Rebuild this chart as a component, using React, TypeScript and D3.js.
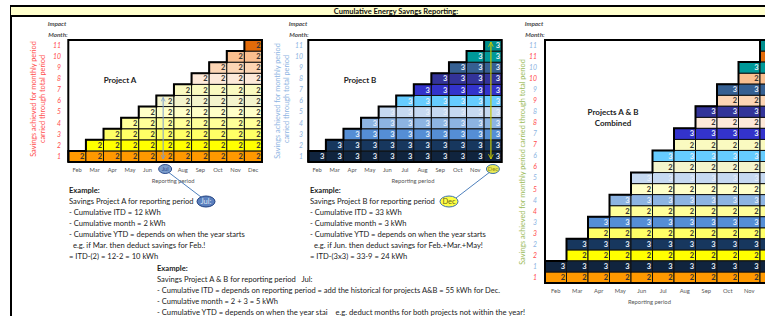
import * as d3 from "d3";
import React from "react";

// ---- data ----
const months = ["Feb", "Mar", "Apr", "May", "Jun", "Jul", "Aug", "Sep", "Oct", "Nov", "Dec"];
const impactMonths = ["1", "2", "3", "4", "5", "6", "7", "8", "9", "10", "11"];
const savingsA = [2, 2, 2, 2, 2, 2, 2, 2, 2, 2, 2];
const savingsB = [3, 3, 3, 3, 3, 3, 3, 3, 3, 3, 3];
const colorsA = ["#FF9900", "#FFFF00", "#FFFF66", "#FFFF99", "#FFFFC8", "#F4F4CC", "#FAFAC0", "#FDE9D9", "#FCD5B4", "#FABF8F", "#E26B0A"];
const colorsB = ["#10243E", "#17375E", "#558ED5", "#8DB4E2", "#C6D9F1", "#66CCFF", "#3333CC", "#333399", "#366092", "#009999", "#008E8E"];

const exampleA = [
  "- Cumulative ITD = 12 kWh",
  "- Cumulative month = 2 kWh",
  "- Cumulative YTD = depends on when the year starts",
  "  e.g. if Mar. then deduct savings for Feb.!",
  "= ITD-(2) = 12-2 = 10 kWh",
];
const exampleB = [
  "- Cumulative ITD = 33 kWh",
  "- Cumulative month = 3 kWh",
  "- Cumulative YTD = depends on when the year starts",
  "  e.g. if Jun. then deduct savings for Feb.+Mar.+May!",
  "= ITD-(3x3) = 33-9 = 24 kWh",
];
const exampleAB = [
  "- Cumulative ITD = depends on reporting period = add the historical for projects A&B = 55 kWh for Dec.",
  "- Cumulative month = 2 + 3 = 5 kWh",
  "- Cumulative YTD = depends on when the year stai    e.g. deduct months for both projects not within the year!",
];
const exampleABWidths = [343, 121, 368];

const FONT = "Lato, 'Liberation Sans', sans-serif";
const W = 765, H = 316;

// keep runs of spaces visible
const keepSpaces = (s: string) => s.replace(/ {2,}/g, (m) => "\u00A0".repeat(m.length));

type Cell = { row: string; col: string; value: number; fill: string; light: boolean };

function buildCells(savings: number[], colors: string[], prefix: string, light: boolean): Cell[] {
  const out: Cell[] = [];
  impactMonths.forEach((im, k) => {
    months.forEach((m, c) => {
      if (c >= k) out.push({ row: prefix + im, col: m, value: savings[k], fill: colors[k], light });
    });
  });
  return out;
}

const Grid = ({ cells, x, y, rowsPerStep, label, labelLines }: any) => {
  const bw = x.bandwidth();
  const bh = y.bandwidth();
  const [x0, x1] = x.range();
  const [y1, y0] = y.range();
  const rows: string[] = y.domain();
  // staircase outline
  let path = `M${x0},${y1}`;
  months.forEach((m, c) => {
    const topRow = rows[Math.min(rows.length - 1, c * rowsPerStep + rowsPerStep - 1)];
    const ty = y(topRow);
    path += `L${x(m)},${ty}L${x(m) + bw},${ty}`;
  });
  return (
    <g>
      {cells.map((d: Cell, i: number) => (
        <g key={i}>
          <rect x={x(d.col)} y={y(d.row)} width={bw} height={bh} fill={d.fill} stroke="#111" strokeWidth={1} />
          {x(d.col) + bw - 1.5 <= W && (
            <text x={x(d.col) + bw - 1.5} y={y(d.row) + bh / 2 + 2.6} textAnchor="end" fontSize={7.5} fontWeight="bold"
              fill={d.light ? "#E8EEF8" : "#333"} fontFamily={FONT}>{d.value}</text>
          )}
        </g>
      ))}
      <rect x={x0} y={y0} width={x1 - x0} height={y1 - y0} fill="none" stroke="#000" strokeWidth={2} />
      <path d={path} fill="none" stroke="#000" strokeWidth={2} />
      {months.filter((m) => x(m) + bw / 2 + 6 < W).map((m) => (
        <text key={m} x={x(m) + bw / 2} y={y1 + 9.5} textAnchor="middle" fontSize={5.8} fill="#555" fontFamily={FONT}>{m}</text>
      ))}
      <text x={(x0 + Math.min(x1, 770)) / 2 + (x1 > 770 ? -8 : 8)} y={y1 + 20.5} textAnchor="middle" fontSize={5.8} fill="#555" fontFamily={FONT}>Reporting period</text>
      {labelLines.map((l: string, i: number) => (
        <text key={i} x={label[0]} y={label[1] + i * 11} textAnchor="middle" fontSize={8} fontWeight="bold" fill="#222" fontFamily={FONT}>{l}</text>
      ))}
    </g>
  );
};

const YLabels = ({ y, rows, texts, colors, xr }: any) => (
  <g>
    {rows.map((r: string, i: number) => (
      <text key={r} x={xr} y={y(r) + y.bandwidth() / 2 + 2.4} textAnchor="end" fontSize={6.8} fontStyle="italic"
        fill={colors[i]} fontFamily={FONT}>{texts[i]}</text>
    ))}
  </g>
);

const Impact = ({ x }: { x: number }) => (
  <g fontFamily={FONT} fontSize={6.3} fontStyle="italic" fontWeight="bold" fill="#4a4a4a" textAnchor="middle">
    <text x={x} y={26}>Impact</text>
    <text x={x + 1} y={37}>Month:</text>
  </g>
);

const Block = ({ x, y, title, lines, widths }: any) => (
  <g fontFamily={FONT} fontSize={7.6} fill="#222">
    <text x={x} y={y} fontWeight="bold">Example:</text>
    <text x={x} y={y + 11}>{keepSpaces(title)}</text>
    {lines.map((l: string, i: number) => (
      <text key={i} x={x} y={y + 22 + i * 11}
        {...(widths ? { textLength: widths[i], lengthAdjust: "spacingAndGlyphs" } : {})}>{keepSpaces(l)}</text>
    ))}
  </g>
);

export default function App() {
  const xA = d3.scaleBand().domain(months).range([68.3, 262]);
  const xB = d3.scaleBand().domain(months).range([308.3, 501.7]);
  const xC = d3.scaleBand().domain(months).range([545, 545 + 21.5 * 11]);
  const yA = d3.scaleBand().domain(impactMonths).range([162, 40]);
  const yB = d3.scaleBand().domain(impactMonths).range([162, 40]);
  const rowsC: string[] = [];
  impactMonths.forEach((im) => { rowsC.push("A" + im, "B" + im); });
  const yC = d3.scaleBand().domain(rowsC).range([283, 40]);

  const cellsA = buildCells(savingsA, colorsA, "", false);
  const cellsB = buildCells(savingsB, colorsB, "", true);
  const cellsC = [...buildCells(savingsA, colorsA, "A", false), ...buildCells(savingsB, colorsB, "B", true)];

  const red = "#FF4D4D", blue = "#8DB4E2", green = "#9BBB59";
  const julX = xA("Jul")! + xA.bandwidth() / 2;
  const decX = xB("Dec")! + xB.bandwidth() / 2;

  return (
    <svg width={W} height={H} style={{ position: "absolute", left: 0, top: 0, background: "#fff" }}>
      <defs>
        <marker id="ahA" viewBox="0 0 10 10" refX="9" refY="5" markerWidth="5" markerHeight="5" orient="auto-start-reverse">
          <path d="M1,1L9,5L1,9" fill="none" stroke="#7F9FCF" strokeWidth={1.5} />
        </marker>
        <marker id="ahB" viewBox="0 0 10 10" refX="9" refY="5" markerWidth="5" markerHeight="5" orient="auto-start-reverse">
          <path d="M1,1L9,5L1,9" fill="none" stroke="#C8C800" strokeWidth={1.5} />
        </marker>
      </defs>
      {/* frame + title */}
      <rect x={11} y={6} width={800} height={400} fill="none" stroke="#000" strokeWidth={2} />
      <rect x={11} y={7} width={800} height={9} fill="#FFFFCC" />
      <line x1={11} x2={811} y1={16} y2={16} stroke="#000" strokeWidth={2} />
      <text x={396} y={14} textAnchor="middle" fontFamily={FONT} fontSize={7.5} fontWeight="bold" fill="#111">Cumulative Energy Savngs Reporting:</text>

      {/* Project A */}
      <Impact x={57} />
      <YLabels y={yA} rows={impactMonths} texts={impactMonths} colors={impactMonths.map(() => red)} xr={61} />
      <g fontFamily={FONT} fontSize={7.3} fill={red} textAnchor="middle">
        <text transform="translate(36,99) rotate(-90)">Savings achieved for monthly period</text>
        <text transform="translate(45,99) rotate(-90)">carried through total period</text>
      </g>
      <Grid cells={cellsA} x={xA} y={yA} rowsPerStep={1} label={[120, 83]} labelLines={["Project A"]} />
      <line x1={julX - 2} x2={julX - 2} y1={yA("6")! + 2} y2={yA("1")! + yA.bandwidth() - 3} stroke="#7F9FCF" strokeWidth={1}
        markerStart="url(#ahA)" markerEnd="url(#ahA)" />

      {/* Project B */}
      <Impact x={298} />
      <YLabels y={yB} rows={impactMonths} texts={impactMonths} colors={impactMonths.map(() => blue)} xr={303} />
      <g fontFamily={FONT} fontSize={7.3} fill={blue} textAnchor="middle">
        <text transform="translate(280,101) rotate(-90)">Savings achieved for monthly period</text>
        <text transform="translate(289,99) rotate(-90)">carried through total period</text>
      </g>
      <Grid cells={cellsB} x={xB} y={yB} rowsPerStep={1} label={[360, 83]} labelLines={["Project B"]} />
      <line x1={decX - 2} x2={decX - 2} y1={yB("11")! + 2} y2={yB("1")! + yB.bandwidth() - 3} stroke="#C8C800" strokeWidth={1.2}
        markerStart="url(#ahB)" markerEnd="url(#ahB)" />

      {/* Combined */}
      <Impact x={534} />
      <YLabels y={yC} rows={rowsC} texts={rowsC.map((r) => r.slice(1))} colors={rowsC.map((r) => (r[0] === "A" ? red : blue))} xr={537} />
      <text transform="translate(525,162) rotate(-90)" textAnchor="middle" fontFamily={FONT} fontSize={7.3} fill={green}>
        Savings achieved for monthly period carried through total period
      </text>
      <Grid cells={cellsC} x={xC} y={yC} rowsPerStep={2} label={[613, 115]} labelLines={["Projects A & B", "Combined"]} />

      {/* callouts */}
      <line x1={julX + 3} y1={172} x2={201} y2={197} stroke="#4F81BD" strokeWidth={1} />
      <ellipse cx={julX} cy={169} rx={6.5} ry={4.5} fill="#7A9CCB" stroke="#2F4F8F" strokeWidth={1} />
      <text x={julX} y={171} textAnchor="middle" fontSize={5.8} fill="#2F4F8F" fontFamily={FONT}>Jul</text>
      <line x1={decX - 3} y1={172} x2={456} y2={198} stroke="#4F81BD" strokeWidth={1} />
      <ellipse cx={decX} cy={169} rx={6.5} ry={4.5} fill="#EAEA55" stroke="#3A6FB0" strokeWidth={1} />
      <text x={decX} y={171} textAnchor="middle" fontSize={5.8} fill="#8a8a20" fontFamily={FONT}>Dec</text>

      {/* examples */}
      <Block x={69} y={193} title="Savings Project A for reporting period" lines={exampleA} />
      <ellipse cx={206} cy={201.5} rx={9} ry={5.5} fill="#5B80BE" stroke="#1F3F7F" strokeWidth={1} />
      <text x={206} y={204} textAnchor="middle" fontSize={7.5} fill="#DDE6F4" fontFamily={FONT}>Jul:</text>
      <Block x={310} y={193} title="Savings Project B for reporting period" lines={exampleB} />
      <ellipse cx={449} cy={201.5} rx={9} ry={5.5} fill="#FFFF44" stroke="#3A6FB0" strokeWidth={1} />
      <text x={449} y={204} textAnchor="middle" fontSize={7.5} fill="#666620" fontFamily={FONT}>Dec</text>
      <Block x={157} y={270.5} title="Savings Project A & B for reporting period   Jul:" lines={exampleAB} widths={exampleABWidths} />
    </svg>
  );
}
